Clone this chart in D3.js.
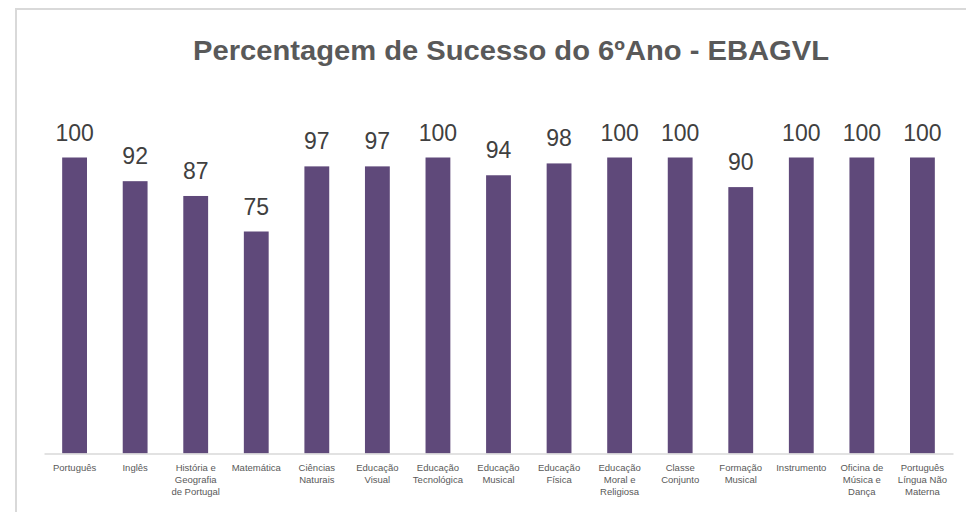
<!DOCTYPE html>
<html>
<head>
<meta charset="utf-8">
<script src="https://cdn.jsdelivr.net/npm/d3@7"></script>
<style>
  html, body { margin: 0; padding: 0; background: #ffffff; }
  svg { display: block; }
</style>
</head>
<body>
<svg id="chart" width="966" height="512"></svg>
<script>
const categories = [
  ["Português"],
  ["Inglês"],
  ["História e", "Geografia", "de Portugal"],
  ["Matemática"],
  ["Ciências", "Naturais"],
  ["Educação", "Visual"],
  ["Educação", "Tecnológica"],
  ["Educação", "Musical"],
  ["Educação", "Física"],
  ["Educação", "Moral e", "Religiosa"],
  ["Classe", "Conjunto"],
  ["Formação", "Musical"],
  ["Instrumento"],
  ["Oficina de", "Música e", "Dança"],
  ["Português", "Língua Não", "Materna"]
];
const values = [100, 92, 87, 75, 97, 97, 100, 94, 98, 100, 100, 90, 100, 100, 100];
const title = "Percentagem de Sucesso do 6ºAno - EBAGVL";

const svg = d3.select("#chart");

// chart border
svg.append("rect")
  .attr("x", 16).attr("y", 9)
  .attr("width", 1000).attr("height", 600)
  .attr("fill", "#ffffff")
  .attr("stroke", "#d9d9d9")
  .attr("stroke-width", 2);

const left = 44, right = 953, base = 453.5, top100 = 157.5;

const x = d3.scaleBand()
  .domain(d3.range(categories.length))
  .range([left, right])
  .paddingInner(0.59)
  .paddingOuter(0.3);

const y = d3.scaleLinear().domain([0, 100]).range([base, top100]);

// title
svg.append("text")
  .attr("x", 511).attr("y", 60)
  .attr("text-anchor", "middle")
  .attr("font-family", "Liberation Sans, Arial, sans-serif")
  .attr("font-weight", "bold")
  .attr("font-size", 28)
  .attr("fill", "#595959")
  .attr("textLength", 636)
  .attr("lengthAdjust", "spacingAndGlyphs")
  .text(title);

// bars
svg.append("g").selectAll("rect")
  .data(values)
  .join("rect")
  .attr("x", (d, i) => x(i))
  .attr("width", x.bandwidth())
  .attr("y", d => y(d))
  .attr("height", d => base - y(d))
  .attr("fill", "#5f497a");

// axis line
const axis = d3.axisBottom(x).tickSize(0).tickFormat("");
const gAxis = svg.append("g").attr("transform", `translate(0,${base})`).call(axis);
gAxis.select(".domain").attr("stroke", "#d9d9d9").attr("stroke-width", 1.5);

// value labels
svg.append("g").selectAll("text")
  .data(values)
  .join("text")
  .attr("x", (d, i) => x(i) + x.bandwidth() / 2)
  .attr("y", d => y(d) - 17)
  .attr("text-anchor", "middle")
  .attr("font-family", "Liberation Sans, Arial, sans-serif")
  .attr("font-size", 23)
  .attr("fill", "#404040")
  .text(d => d);

// category labels
const gl = svg.append("g");
categories.forEach((lines, i) => {
  const t = gl.append("text")
    .attr("x", x(i) + x.bandwidth() / 2)
    .attr("y", 471)
    .attr("text-anchor", "middle")
    .attr("font-family", "Liberation Sans, Arial, sans-serif")
    .attr("font-size", 9.5)
    .attr("fill", "#595959");
  lines.forEach((ln, j) => {
    t.append("tspan")
      .attr("x", x(i) + x.bandwidth() / 2)
      .attr("dy", j === 0 ? 0 : 12)
      .text(ln);
  });
});
</script>
</body>
</html>
